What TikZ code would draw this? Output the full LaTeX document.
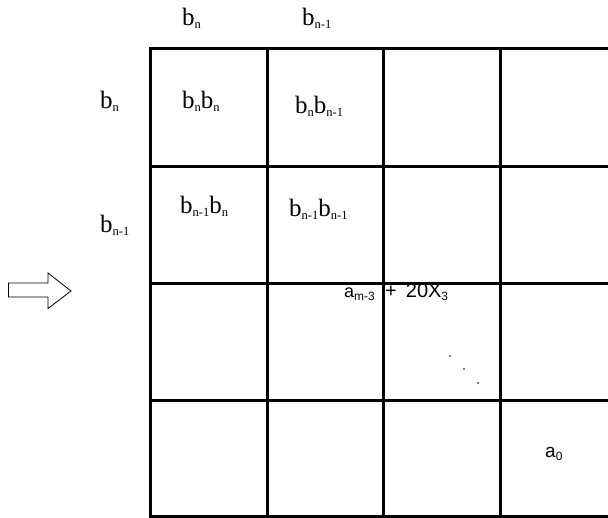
\documentclass[tikz,border=0pt]{standalone}
\usepackage{fontspec}
\setmainfont{Liberation Serif}
\newfontfamily\sansf{Liberation Sans}
\newcommand\lsub[1]{\raisebox{-3pt}{\fontsize{12.5}{12.5}\selectfont #1}}
\newcommand\ssub[1]{\raisebox{-3pt}{\fontsize{12}{12}\selectfont #1}}
\begin{document}
\begin{tikzpicture}[x=1pt,y=-1pt,
  gridline/.style={line width=3pt, line cap=rect},
  lab/.style={anchor=base west, inner sep=0pt, font=\fontsize{25}{25}\selectfont},
  slab/.style={anchor=base west, inner sep=0pt, font=\sansf\fontsize{18}{18}\selectfont},
  dotm/.style={fill=black, circle, inner sep=0pt, minimum size=1.6pt}]
\useasboundingbox (0,0) rectangle (608,517);
% grid
\foreach \y in {48,166,283,400,516} \draw[gridline] (150,\y) -- (610,\y);
\foreach \x in {150,267,383,500} \draw[gridline] (\x,48) -- (\x,518);
% header labels
\node[lab] (tb1) at (182,25) {b\lsub{n}};
\node[lab] (tb2) at (302,25) {b\lsub{n-1}};
\node[lab] (lb1) at (100,108) {b\lsub{n}};
\node[lab] (lb2) at (100,232) {b\lsub{n-1}};
% cell labels
\node[lab] (c11) at (182,108) {b\lsub{n}b\lsub{n}};
\node[lab] (c12) at (295,113) {b\lsub{n}b\lsub{n-1}};
\node[lab] (c21) at (180,213) {b\lsub{n-1}b\lsub{n}};
\node[lab] (c22) at (289,216) {b\lsub{n-1}b\lsub{n-1}};
\node[slab] (am) at (344,297) {a\ssub{m-3}};
\node[slab, font=\sansf\fontsize{20}{20}\selectfont] (pl) at (385,297) {+\hspace{9pt}20X\ssub{3}};
\node[slab, font=\sansf\fontsize{19}{19}\selectfont] (a0) at (545,457) {a\ssub{0}};
% diagonal dots
\node[dotm] (d1) at (450,356) {};
\node[dotm] (d2) at (464,369) {};
\node[dotm] (d3) at (478,383) {};
% outline arrow
\draw[line width=0.8pt, line join=miter] (8.5,283) -- (48,283) -- (48,273) -- (71,291)
  -- (48,308.5) -- (48,297) -- (8.5,297) -- cycle;
\end{tikzpicture}
\end{document}
